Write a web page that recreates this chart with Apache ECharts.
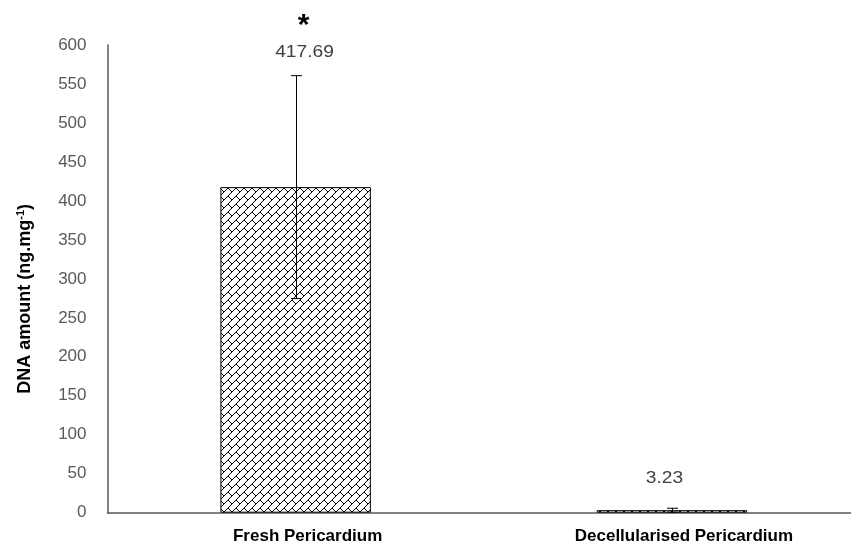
<!DOCTYPE html>
<html><head><meta charset="utf-8">
<script src="https://cdn.jsdelivr.net/npm/echarts@6/dist/echarts.min.js"></script>
<style>html,body{margin:0;padding:0;background:#fff}#chart{width:851px;height:549px}</style>
</head><body><div id="chart"></div>
<script>
// DNA content of fresh vs decellularised pericardium (mean ± SD)
const categories = ['Fresh Pericardium', 'Decellularised Pericardium'];
const dnaAmount = [417.69, 3.23];
const dnaError = [143, 2.5];
const significance = ['*', ''];
const yMin = 0, yMax = 600, yInterval = 50;

// 8x8 "diagonal brick" hatch tile
function brickPattern() {
  const rows = [0x01, 0x02, 0x04, 0x08, 0x18, 0x24, 0x42, 0x81];
  const c = document.createElement('canvas');
  c.width = 8; c.height = 8;
  const ctx = c.getContext('2d');
  ctx.fillStyle = '#fff'; ctx.fillRect(0, 0, 8, 8);
  ctx.fillStyle = '#000';
  rows.forEach((bits, y) => {
    for (let x = 0; x < 8; x++) if (bits & (0x80 >> x)) ctx.fillRect(x, y, 1, 1);
  });
  return c;
}

const chart = echarts.init(document.getElementById('chart'), null, {renderer: 'canvas'});
const font = '"Liberation Sans", Arial, sans-serif';
// value-label placement relative to the top of each error bar
const labelDx = [8, -8];
const labelDy = [-23, -30];
const textStretch = 1.2;

chart.setOption({
  animation: false,
  grid: {left: 107.5, right: -9, top: 45, bottom: 36.3, containLabel: false, outerBoundsMode: 'none'},
  xAxis: {
    type: 'category',
    data: categories,
    axisTick: {show: false},
    axisLine: {lineStyle: {color: '#595959', width: 1.5}},
    axisLabel: {
      color: '#000', fontWeight: 'bold', fontSize: 17, margin: 15,
      fontFamily: font, padding: [0, 0, 0, 24]
    }
  },
  yAxis: {
    type: 'value',
    min: yMin, max: yMax, interval: yInterval,
    splitLine: {show: false},
    axisTick: {show: false},
    axisLine: {show: true, lineStyle: {color: '#595959', width: 1.5}},
    axisLabel: {color: '#595959', fontSize: 17, fontFamily: font, margin: 21},
    name: 'DNA amount (ng.mg{sup|-1})',
    nameLocation: 'middle',
    nameGap: 72,
    nameRotate: 90,
    nameTextStyle: {
      color: '#000', fontWeight: 'bold', fontSize: 18, fontFamily: font,
      padding: [0, 40, 0, 0],
      rich: {sup: {fontSize: 11, fontWeight: 'bold', color: '#000', padding: [0, 0, 9, 0]}}
    }
  },
  series: [
    {
      type: 'bar',
      data: dnaAmount,
      barCategoryGap: '60%',
      itemStyle: {
        color: {image: brickPattern(), repeat: 'repeat'},
        borderColor: '#000',
        borderWidth: 1
      }
    },
    {
      type: 'custom',
      data: categories.map((c, i) => [i, dnaAmount[i], dnaError[i]]),
      z: 5,
      renderItem: function (params, api) {
        const i = params.dataIndex;
        const v = api.value(1), e = api.value(2);
        const top = api.coord([api.value(0), v + e]);
        const bot = api.coord([api.value(0), v - e]);
        const x = Math.round(top[0]) + 0.5;
        const half = 5.5;
        const st = {stroke: '#000', lineWidth: 1};
        const children = [
          {type: 'line', shape: {x1: x, y1: top[1], x2: x, y2: bot[1]}, style: st},
          {type: 'line', shape: {x1: x - half, y1: top[1], x2: x + half, y2: top[1]}, style: st},
          {type: 'line', shape: {x1: x - half, y1: bot[1], x2: x + half, y2: bot[1]}, style: st},
          {type: 'text', x: x + labelDx[i], y: top[1] + labelDy[i], scaleX: textStretch, style: {
            text: dnaAmount[i].toFixed(2), align: 'center', verticalAlign: 'middle',
            font: '16px ' + font, fill: '#404040'}}
        ];
        if (significance[i]) {
          children.push({type: 'text', x: x + 7, y: top[1] - 50, style: {
            text: significance[i], align: 'center', verticalAlign: 'middle',
            font: 'bold 30px ' + font, fill: '#000'}});
        }
        return {type: 'group', children: children};
      }
    }
  ]
});
</script>
</body></html>
